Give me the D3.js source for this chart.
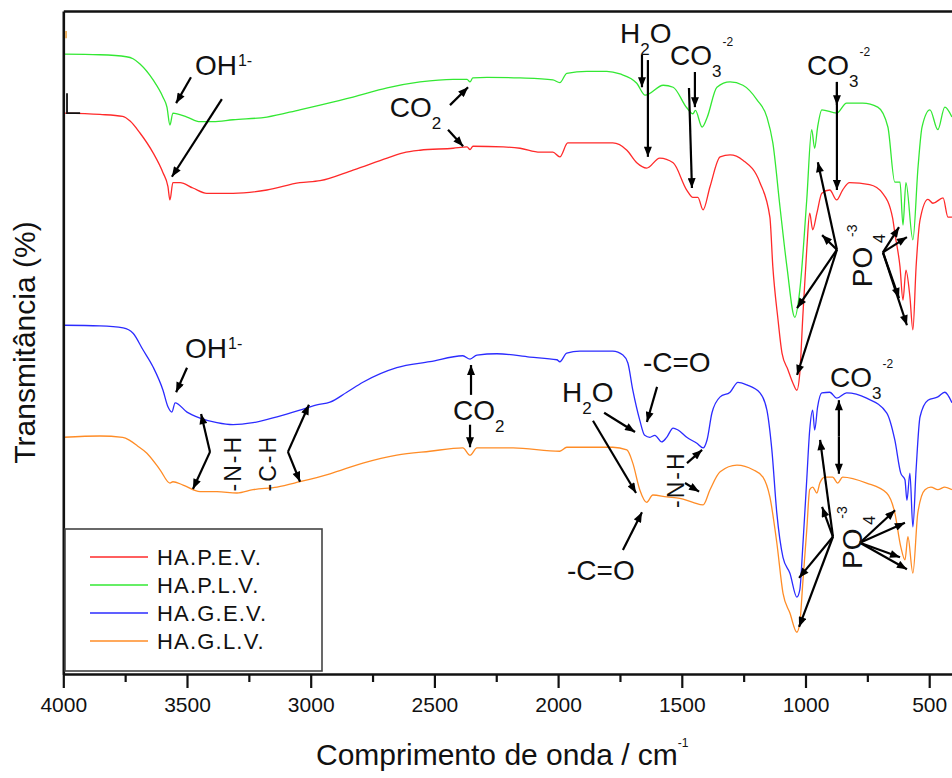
<!DOCTYPE html>
<html>
<head>
<meta charset="utf-8">
<script src="https://cdn.jsdelivr.net/npm/d3@7"></script>
<style>
  html, body { margin: 0; padding: 0; background: #fff; }
  svg { display: block; font-family: "Liberation Sans", Arial, Helvetica, sans-serif; }
</style>
</head>
<body>
<svg id="chart" width="952" height="778"></svg>
<script>
// FTIR spectra: [wavenumber (cm-1), transmittance (offset, %)]
const seriesNames = ["HA.P.E.V.", "HA.P.L.V.", "HA.G.E.V.", "HA.G.L.V."];
const seriesColors = ["#ff2a2a", "#33e833", "#2b2bff", "#ff8c26"];

const spectrumPEV = [
  [4000,84.6],[3852,84.4],[3760,84.1],[3730,83.4],[3690,81.6],[3637,78.6],[3597,75.6],[3577,73.5],[3569,71.5],[3557,74.1],
  [3528,74.1],[3476,73.3],[3420,72.5],[3314,72.5],[3177,73.0],[3044,74.1],[2962,74.4],[2829,76.0],[2691,77.8],
  [2626,78.6],[2558,79.0],[2424,79.3],[2368,79.5],[2356,79.1],[2344,79.6],[2222,79.5],[2154,79.3],[2073,78.7],
  [2021,78.7],[1993,78.0],[1961,80.1],[1884,80.1],[1779,80.1],[1722,79.0],[1682,77.1],[1642,76.3],[1589,77.8],
  [1535,77.1],[1480,73.0],[1455,71.9],[1435,71.9],[1414,70.0],[1386,73.5],[1345,78.0],[1305,78.3],[1253,77.5],
  [1184,74.1],[1144,68.9],[1132,61.4],[1111,53.4],[1095,48.4],[1071,45.9],[1051,43.9],[1035,42.8],[1023,45.4],
  [1011,53.8],[995,64.0],[983,69.5],[971,67.0],[954,69.5],[934,72.5],[902,73.0],[874,71.5],[850,73.0],[822,74.1],
  [741,73.8],[688,72.5],[648,68.8],[639,66.5],[618,61.4],[606,56.4],[594,60.9],[578,56.9],[566,51.9],[553,61.4],
  [537,68.5],[505,71.6],[485,71.0],[444,71.8],[424,68.9],[408,68.9]
];

const spectrumPLV = [
  [4000,93.5],[3852,93.4],[3745,93.1],[3718,92.8],[3690,92.0],[3637,89.6],[3597,87.0],[3581,85.5],[3569,82.8],[3557,84.6],
  [3500,84.0],[3447,83.3],[3395,83.3],[3314,83.6],[3177,84.0],[3044,85.1],[2962,85.8],[2829,87.0],[2691,88.4],
  [2558,89.3],[2424,89.7],[2368,89.7],[2356,89.3],[2345,89.9],[2287,90.0],[2154,89.9],[2021,89.6],[1993,89.2],
  [1965,90.6],[1884,90.9],[1803,90.9],[1750,90.5],[1682,89.1],[1648,87.3],[1575,88.8],[1535,88.5],[1480,85.4],
  [1455,84.5],[1445,85.0],[1418,82.5],[1398,83.9],[1358,88.5],[1305,89.3],[1253,88.8],[1196,86.6],[1156,84.0],
  [1132,80.1],[1103,70.4],[1075,61.4],[1043,53.8],[1023,57.9],[995,71.5],[975,82.1],[963,79.3],[951,82.5],
  [934,85.1],[874,84.6],[834,86.1],[769,86.1],[708,85.5],[667,82.5],[639,74.2],[618,74.2],[606,67.7],[594,74.1],
  [566,65.5],[545,76.5],[529,82.5],[497,85.1],[465,82.1],[437,85.5],[408,84.0]
];

const spectrumGEV = [
  [4000,52.6],[3852,52.5],[3758,52.2],[3718,51.4],[3678,48.9],[3637,46.3],[3597,42.8],[3577,40.3],[3561,39.5],
  [3548,40.9],[3500,39.5],[3447,38.6],[3379,37.9],[3314,37.6],[3233,37.9],[3136,38.8],[3044,39.8],[2975,40.6],
  [2922,41.0],[2854,42.5],[2789,44.0],[2652,46.2],[2518,47.1],[2385,48.0],[2356,47.5],[2328,48.1],[2247,48.3],
  [2114,47.8],[2005,47.4],[1993,47.1],[1965,48.4],[1912,48.7],[1779,48.7],[1738,48.1],[1718,46.9],[1698,42.8],
  [1670,38.3],[1650,36.0],[1629,35.7],[1609,36.0],[1581,35.0],[1561,35.7],[1535,37.1],[1515,36.8],[1480,35.7],
  [1439,34.8],[1414,34.1],[1398,35.3],[1378,39.4],[1345,41.8],[1305,42.5],[1273,44.0],[1237,43.6],[1184,42.4],
  [1156,39.8],[1136,33.8],[1116,24.3],[1091,17.6],[1063,15.2],[1035,11.6],[1023,12.7],[1011,19.2],[995,29.3],
  [983,36.8],[971,39.8],[963,36.8],[951,40.3],[934,42.4],[902,42.5],[874,41.6],[834,42.4],[753,41.6],[672,39.4],
  [639,35.3],[615,30.3],[598,29.3],[590,26.2],[578,30.3],[566,22.2],[553,30.8],[537,38.8],[505,41.3],[465,41.8],
  [437,42.5],[408,40.9]
];

const spectrumGLV = [
  [4000,35.7],[3852,35.9],[3760,35.7],[3730,35.2],[3700,34.4],[3662,33.3],[3609,30.8],[3569,28.8],[3557,29.0],[3516,28.5],
  [3447,27.5],[3379,27.5],[3298,27.3],[3233,27.8],[3136,28.2],[3044,29.0],[2922,30.2],[2789,31.8],[2652,33.0],
  [2518,33.6],[2385,34.1],[2356,33.0],[2328,34.1],[2182,34.1],[1993,33.6],[1965,34.2],[1779,34.2],[1722,33.8],
  [1698,31.8],[1670,27.8],[1642,25.9],[1617,27.0],[1561,26.7],[1508,26.5],[1455,25.9],[1414,25.5],[1386,27.8],
  [1345,30.5],[1277,31.5],[1212,30.8],[1172,29.7],[1144,26.7],[1116,19.8],[1091,12.2],[1063,9.2],[1035,6.3],
  [1023,7.7],[1011,13.7],[995,21.7],[983,27.8],[971,28.2],[954,27.3],[942,28.8],[922,29.7],[890,29.7],[870,28.8],
  [850,29.7],[753,28.8],[672,27.3],[639,24.3],[615,19.2],[598,17.2],[586,20.7],[566,15.2],[546,24.3],[517,27.8],
  [493,28.2],[465,27.8],[437,28.2],[408,27.8]
];

const spectra = [spectrumPEV, spectrumPLV, spectrumGEV, spectrumGLV];

// axis ticks (cm-1)
const majorTicks = [4000, 3500, 3000, 2500, 2000, 1500, 1000, 500];
const minorTicks = [3750, 3250, 2750, 2250, 1750, 1250, 750];

// band assignments: text pieces and anchor point [wavenumber, transmittance]
const bandLabels = [
  { wn: 3468, T: 90.3, parts: [["OH", "n"], ["1-", "sup"]] },
  { wn: 2680, T: 84.0, parts: [["CO", "n"], ["2", "sub"]] },
  { wn: 1750, T: 95.2, parts: [["H", "n"], ["2", "sub"], ["O", "n"]] },
  { wn: 1548, T: 91.9, parts: [["CO", "n"], ["3", "sub"], ["-2", "chg"]] },
  { wn: 994,  T: 90.3, parts: [["CO", "n"], ["3", "sub"], ["-2", "chg"]] },
  { wn: 3508, T: 47.7, parts: [["OH", "n"], ["1-", "sup"]] },
  { wn: 2425, T: 38.3, parts: [["CO", "n"], ["2", "sub"]] },
  { wn: 1984, T: 41.0, parts: [["H", "n"], ["2", "sub"], ["O", "n"]] },
  { wn: 1657, T: 45.6, parts: [["-C=O", "n"]] },
  { wn: 1964, T: 14.2, parts: [["-C=O", "n"]] },
  { wn: 901,  T: 43.3, parts: [["CO", "n"], ["3", "sub"], ["-2", "chg"]] }
];

// vertical band labels: centre point [wavenumber, transmittance]
const verticalLabels = [
  { wn: 772,  T: 61.4, text: "PO", sub: "4", sup: "-3" },
  { wn: 812,  T: 18.9, text: "PO", sub: "4", sup: "-3" },
  { wn: 3314, T: 31.8, text: "-N-H" },
  { wn: 3173, T: 31.8, text: "-C-H" },
  { wn: 1523, T: 29.3, text: "-N-H" }
];

// pointer arrows: [wn start, T start, wn tip, T tip]
const pointerArrows = [
  [3484,90.0,3544,86.1], [3359,86.7,3561,75.0],
  [2437,85.8,2364,88.5], [2445,82.1,2384,79.6],
  [1661,93.4,1661,88.5], [1637,92.6,1637,78.0],
  [1447,90.8,1447,85.5], [1471,88.4,1459,73.3],
  [873,89.3,873,73.0],   [873,89.3,873,85.8],
  [873,64.0,950,77.2], [873,64.0,933,66.2], [873,64.0,1034,55.2], [873,64.0,1034,45.1],
  [687,63.6,622,67.4], [687,63.6,590,65.9], [687,63.6,622,56.7], [687,63.6,590,52.6],
  [3500,46.2,3544,42.5],
  [3407,33.5,3443,39.2], [3407,33.5,3476,27.9],
  [3092,33.5,3007,40.6], [3092,33.5,3043,29.0],
  [2352,42.1,2352,46.6], [2356,37.6,2356,34.2],
  [1814,39.4,1689,36.5], [1859,38.2,1685,27.3],
  [1600,43.3,1641,38.0], [1738,18.7,1661,24.4],
  [1479,31.8,1418,33.8], [1487,28.8,1430,27.5],
  [865,35.8,865,41.3], [865,35.8,865,30.2],
  [889,20.7,941,35.3], [889,20.7,933,25.2], [889,20.7,1026,14.5], [889,20.7,1026,7.1],
  [780,19.8,638,24.7], [780,19.8,598,22.8], [780,19.8,618,17.6], [780,19.8,590,15.8]
];

// ---------------------------------------------------------------
const svg = d3.select("#chart");
const W = 952, H = 778;
const plot = { left: 63.3, top: 11, bottom: 674 };

const x = d3.scaleLinear().domain([4000, 400]).range([plot.left, plot.left + 3600 * 0.2474]);
const y = d3.scaleLinear().domain([0, 100]).range([plot.bottom, plot.top]);

svg.append("rect").attr("width", W).attr("height", H).attr("fill", "#fff");

const defs = svg.append("defs");
defs.append("clipPath").attr("id", "plotClip")
  .append("rect")
  .attr("x", plot.left + 1).attr("y", plot.top + 1)
  .attr("width", W - plot.left).attr("height", plot.bottom - plot.top - 2);

defs.append("marker")
  .attr("id", "head")
  .attr("viewBox", "0 0 10 8")
  .attr("refX", 10).attr("refY", 4)
  .attr("markerWidth", 11).attr("markerHeight", 8)
  .attr("markerUnits", "userSpaceOnUse")
  .attr("orient", "auto")
  .append("path").attr("d", "M0,0 L10,4 L0,8 Z").attr("fill", "#000");

// spectra
const line = d3.line()
  .x(d => x(d[0]))
  .y(d => y(d[1]))
  .curve(d3.curveMonotoneX);

svg.append("g").attr("clip-path", "url(#plotClip)")
  .selectAll("path")
  .data(spectra)
  .join("path")
  .attr("d", line)
  .attr("fill", "none")
  .attr("stroke", (d, i) => seriesColors[i])
  .attr("stroke-width", 1.3)
  .attr("stroke-linejoin", "round");

// frame: left and top
const yAxis = d3.axisLeft(y).tickValues([]).tickSizeOuter(0);
svg.append("g").attr("transform", `translate(${plot.left},0)`).call(yAxis)
  .select(".domain").attr("stroke", "#111").attr("stroke-width", 2.6);

const topAxis = d3.axisTop(x).tickValues([]).tickSizeOuter(0);
svg.append("g").attr("transform", `translate(0,${plot.top})`).call(topAxis)
  .select(".domain").attr("stroke", "#111").attr("stroke-width", 2.6);

// small stubs on the left axis
svg.append("path")
  .attr("d", d3.line()([[x(3989), y(97.0)], [x(3989), y(95.9)]]))
  .attr("stroke", "#e8a040").attr("stroke-width", 1.6);
svg.append("path")
  .attr("d", d3.line()([[x(3985), y(87.6)], [x(3985), y(84.6)], [x(3932), y(84.6)]]))
  .attr("fill", "none").attr("stroke", "#111").attr("stroke-width", 1.8);

// bottom axis
const xAxis = d3.axisBottom(x).tickValues(majorTicks).tickSize(14).tickPadding(9)
  .tickSizeOuter(0).tickFormat(d3.format("d"));
const gx = svg.append("g").attr("transform", `translate(0,${plot.bottom})`).call(xAxis);
gx.select(".domain").attr("stroke", "#111").attr("stroke-width", 2.6);
gx.selectAll(".tick line").attr("stroke", "#111").attr("stroke-width", 2.2);
gx.selectAll(".tick text")
  .attr("fill", "#111").attr("font-size", 21)
  .attr("font-family", "\"Liberation Sans\", Arial, sans-serif");

const xMinor = d3.axisBottom(x).tickValues(minorTicks).tickSize(8).tickFormat("").tickSizeOuter(0);
const gm = svg.append("g").attr("transform", `translate(0,${plot.bottom})`).call(xMinor);
gm.select(".domain").remove();
gm.selectAll(".tick line").attr("stroke", "#111").attr("stroke-width", 2.2);

// axis titles
const xt = svg.append("text")
  .attr("x", 316).attr("y", 765)
  .attr("font-size", 30).attr("fill", "#111");
xt.append("tspan").text("Comprimento de onda / cm");
xt.append("tspan").attr("dy", -18).attr("font-size", 12).text("-1");

svg.append("text")
  .attr("transform", `translate(35,${(plot.top + plot.bottom) / 2}) rotate(-90)`)
  .attr("text-anchor", "middle")
  .attr("font-size", 30).attr("fill", "#111")
  .text("Transmitância (%)");

// legend
const legend = svg.append("g").attr("transform", "translate(65,529)");
legend.append("rect")
  .attr("width", 257).attr("height", 142)
  .attr("fill", "#fff").attr("stroke", "#444").attr("stroke-width", 1.6);
seriesNames.forEach((name, i) => {
  const row = legend.append("g").attr("transform", `translate(0,${28 + i * 28})`);
  row.append("line").attr("x1", 25).attr("x2", 83)
    .attr("stroke", seriesColors[i]).attr("stroke-width", 1.6);
  row.append("text").attr("x", 92).attr("y", 8)
    .attr("font-size", 22).attr("letter-spacing", 1.2).attr("fill", "#111").text(name);
});

// arrows
svg.append("g").selectAll("line")
  .data(pointerArrows)
  .join("line")
  .attr("x1", d => x(d[0])).attr("y1", d => y(d[1]))
  .attr("x2", d => x(d[2])).attr("y2", d => y(d[3]))
  .attr("stroke", "#000").attr("stroke-width", 2.2)
  .attr("marker-end", "url(#head)");

// band labels with sub/superscripts
const shifts = { n: 0, sub: 12, sup: -9, chg: -19 };
const sizes = { n: 28, sub: 17, sup: 16, chg: 12 };
const gl = svg.append("g").attr("fill", "#111");
bandLabels.forEach(lab => {
  const t = gl.append("text").attr("x", x(lab.wn)).attr("y", y(lab.T)).attr("font-size", 28);
  let cur = 0;
  lab.parts.forEach(([s, kind]) => {
    const target = shifts[kind];
    const ts = t.append("tspan").attr("font-size", sizes[kind]).attr("dy", target - cur).text(s);
    if (kind === "chg" || kind === "sup") ts.attr("dx", 1);
    cur = target;
  });
});

// vertical labels
verticalLabels.forEach(lab => {
  const g = svg.append("g")
    .attr("transform", `translate(${x(lab.wn)},${y(lab.T)}) rotate(-90)`)
    .attr("fill", "#111");
  if (lab.sub) {
    g.append("text").attr("x", 0).attr("y", 10).attr("text-anchor", "middle")
      .attr("font-size", 28).text(lab.text);
    g.append("text").attr("x", 24).attr("y", 23).attr("font-size", 16).text(lab.sub);
    g.append("text").attr("x", 30).attr("y", -5).attr("font-size", 14).text(lab.sup);
  } else {
    g.append("text").attr("x", 0).attr("y", 8).attr("text-anchor", "middle")
      .attr("font-size", 23).attr("letter-spacing", 2).text(lab.text);
  }
});
</script>
</body>
</html>
